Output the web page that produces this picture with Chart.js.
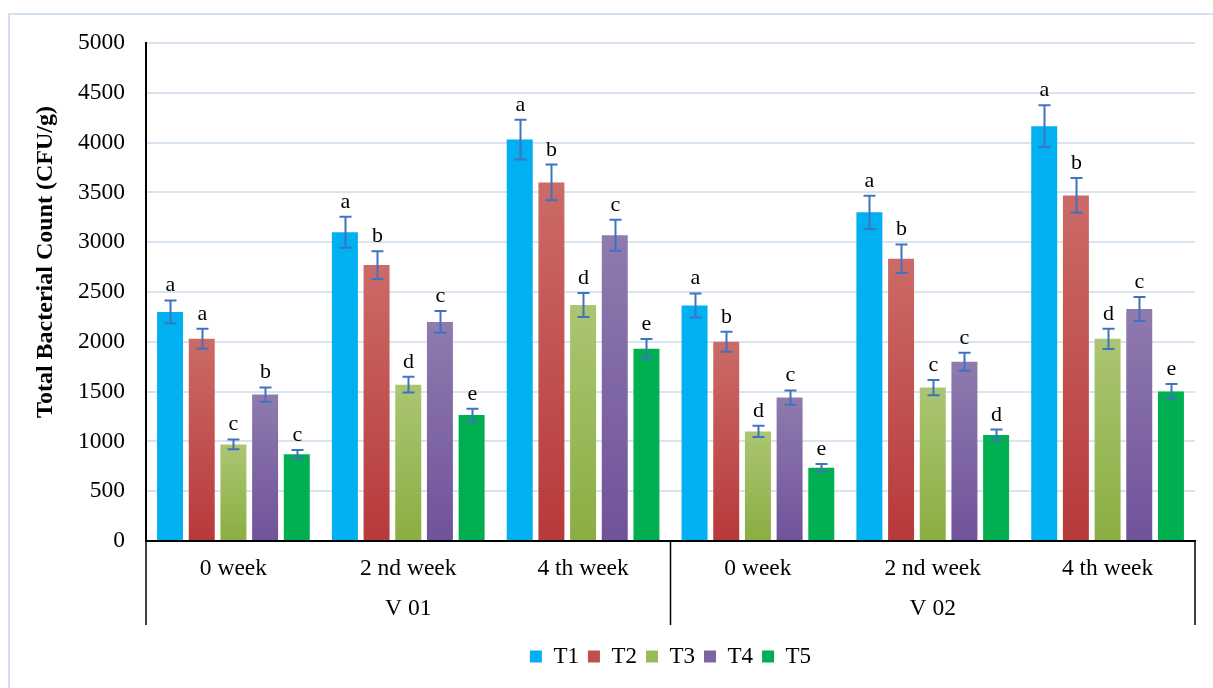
<!DOCTYPE html>
<html lang="en">
<head>
    <meta charset="UTF-8">
    <title>Total Bacterial Count</title>
    <style>
        * {
            margin: 0;
            padding: 0;
            box-sizing: border-box;
        }

        body {
            background-color: #fff;
            width: 1213px;
            height: 688px;
            overflow: hidden;
        }
    </style>
    <script src="https://cdn.jsdelivr.net/npm/chart.js"></script>
</head>
<body>
    <canvas id="tbcChart" width="1213" height="688"></canvas>

    <script>
        // categories
        const weekLabels = ['0 week', '2 nd week', '4 th week', '0 week', '2 nd week', '4 th week'];
        const varietyLabels = ['V 01', 'V 02'];
        const treatmentNames = ['T1', 'T2', 'T3', 'T4', 'T5'];
        const yTitle = 'Total Bacterial Count (CFU/g)';

        // y axis
        const yMin = 0;
        const yMax = 5000;
        const yStep = 500;

        // means (CFU/g)
        const t1Values = [2300, 3100, 4030, 2365, 3300, 4165];
        const t2Values = [2030, 2770, 3600, 2000, 2835, 3470];
        const t3Values = [970, 1570, 2370, 1100, 1540, 2030];
        const t4Values = [1470, 2200, 3070, 1440, 1800, 2330];
        const t5Values = [870, 1265, 1930, 735, 1065, 1500];

        // error (+/-)
        const t1Errors = [115, 156, 200, 120, 167, 210];
        const t2Errors = [100, 140, 180, 100, 143, 175];
        const t3Errors = [50, 80, 120, 57, 77, 102];
        const t4Errors = [72, 110, 155, 72, 90, 120];
        const t5Errors = [43, 63, 97, 38, 54, 76];

        // significance letters
        const t1Letters = ['a', 'a', 'a', 'a', 'a', 'a'];
        const t2Letters = ['a', 'b', 'b', 'b', 'b', 'b'];
        const t3Letters = ['c', 'd', 'd', 'd', 'c', 'd'];
        const t4Letters = ['b', 'c', 'c', 'c', 'c', 'c'];
        const t5Letters = ['c', 'e', 'e', 'e', 'd', 'e'];

        const allValues = [t1Values, t2Values, t3Values, t4Values, t5Values];
        const allErrors = [t1Errors, t2Errors, t3Errors, t4Errors, t5Errors];
        const allLetters = [t1Letters, t2Letters, t3Letters, t4Letters, t5Letters];

        // colours: [top of bar, bottom of bar], legend colour
        const barShades = [
            ['#00b0f0', '#00b0f0'],
            ['#cb6b67', '#b7393a'],
            ['#aac672', '#8bad42'],
            ['#8f7bae', '#70529a'],
            ['#00b050', '#00b050']
        ];
        const legendColors = ['#00b0f0', '#c0504d', '#9bbb59', '#8064a2', '#00b050'];

        const serif = '"Liberation Serif", "Times New Roman", serif';

        function barFill(i) {
            return function (ctx) {
                const chart = ctx.chart;
                const y = chart.scales && chart.scales.y;
                if (!chart.chartArea || !y || ctx.raw === undefined) return barShades[i][1];
                const top = y.getPixelForValue(ctx.raw);
                const bottom = y.getPixelForValue(0);
                const g = chart.ctx.createLinearGradient(0, top, 0, bottom);
                g.addColorStop(0, barShades[i][0]);
                g.addColorStop(1, barShades[i][1]);
                return g;
            };
        }

        const datasets = treatmentNames.map((name, i) => ({
            label: name,
            data: allValues[i],
            backgroundColor: barFill(i),
            borderWidth: 0,
            categoryPercentage: 0.906,
            barPercentage: 0.82
        }));

        // error bars, letters, group dividers, axis title, outer frame
        const extrasPlugin = {
            id: 'extras',
            beforeDraw(chart) {
                const ctx = chart.ctx;
                ctx.save();
                ctx.strokeStyle = '#d3e0f0';
                ctx.lineWidth = 2;
                ctx.strokeRect(9, 14, 1400, 900);
                ctx.restore();
            },
            afterDatasetsDraw(chart) {
                const ctx = chart.ctx;
                const y = chart.scales.y;
                ctx.save();
                chart.data.datasets.forEach((ds, i) => {
                    const meta = chart.getDatasetMeta(i);
                    meta.data.forEach((bar, j) => {
                        const v = ds.data[j];
                        const e = allErrors[i][j];
                        const yTop = y.getPixelForValue(v + e);
                        const yBot = y.getPixelForValue(v - e);
                        const x = Math.round(bar.x) + 0.5;
                        ctx.strokeStyle = '#4072c2';
                        ctx.lineWidth = 2;
                        ctx.beginPath();
                        ctx.moveTo(x, yTop);
                        ctx.lineTo(x, yBot);
                        ctx.moveTo(x - 6, yTop);
                        ctx.lineTo(x + 6, yTop);
                        ctx.moveTo(x - 6, yBot);
                        ctx.lineTo(x + 6, yBot);
                        ctx.stroke();

                        ctx.fillStyle = '#000';
                        ctx.font = '22px ' + serif;
                        ctx.textAlign = 'center';
                        ctx.textBaseline = 'alphabetic';
                        ctx.fillText(allLetters[i][j], x, yTop - 9);
                    });
                });
                ctx.restore();
            },
            afterDraw(chart) {
                const ctx = chart.ctx;
                const xs = chart.scales.x;
                const x2 = chart.scales.x2;
                const top = chart.chartArea.bottom;
                const bottom = x2.bottom - 11;
                const spots = [xs.left, xs.getPixelForValue(2.5), xs.right];
                ctx.save();
                ctx.strokeStyle = '#000';
                ctx.lineWidth = 1.5;
                ctx.beginPath();
                spots.forEach(px => {
                    ctx.moveTo(px, top);
                    ctx.lineTo(px, bottom);
                });
                ctx.stroke();

                // y axis title
                ctx.translate(46, 262);
                ctx.rotate(-Math.PI / 2);
                ctx.font = 'bold 24px ' + serif;
                ctx.fillStyle = '#000';
                ctx.textAlign = 'center';
                ctx.textBaseline = 'middle';
                ctx.fillText(yTitle, 0, 0);
                ctx.restore();
            }
        };

        Chart.defaults.font.family = serif;
        Chart.defaults.color = '#000';

        new Chart(document.getElementById('tbcChart').getContext('2d'), {
            type: 'bar',
            data: {
                labels: weekLabels,
                datasets: datasets
            },
            options: {
                responsive: false,
                animation: false,
                devicePixelRatio: 1,
                layout: {
                    padding: { top: 43, right: 18, bottom: 10, left: 0 }
                },
                plugins: {
                    legend: {
                        position: 'bottom',
                        fullSize: false,
                        labels: {
                            boxWidth: 12,
                            boxHeight: 12,
                            padding: 9,
                            font: { size: 23 },
                            generateLabels: chart => chart.data.datasets.map((ds, i) => ({
                                text: ds.label,
                                fillStyle: legendColors[i],
                                strokeStyle: legendColors[i],
                                lineWidth: 0,
                                hidden: false,
                                datasetIndex: i
                            }))
                        }
                    },
                    tooltip: { enabled: false }
                },
                scales: {
                    x: {
                        grid: { display: false, drawTicks: false },
                        border: { display: true, color: '#000', width: 2 },
                        ticks: { font: { size: 23.5 }, padding: 14, maxRotation: 0, autoSkip: false },
                        afterFit: scale => { scale.height = 50; }
                    },
                    x2: {
                        type: 'category',
                        labels: varietyLabels,
                        position: 'bottom',
                        offset: true,
                        weight: 1,
                        grid: { display: false, drawTicks: false },
                        border: { display: false },
                        ticks: { font: { size: 23.5 }, padding: 4, maxRotation: 0 },
                        afterFit: scale => { scale.height = 45; }
                    },
                    y: {
                        min: yMin,
                        max: yMax,
                        ticks: {
                            stepSize: yStep,
                            font: { size: 23.5 },
                            padding: 21,
                            callback: value => String(value)
                        },
                        grid: { color: '#d9e4f2', lineWidth: 2, drawTicks: false },
                        border: { display: true, color: '#000', width: 2 },
                        afterFit: scale => { scale.width = 146; }
                    }
                }
            },
            plugins: [extrasPlugin]
        });
    </script>
</body>
</html>
